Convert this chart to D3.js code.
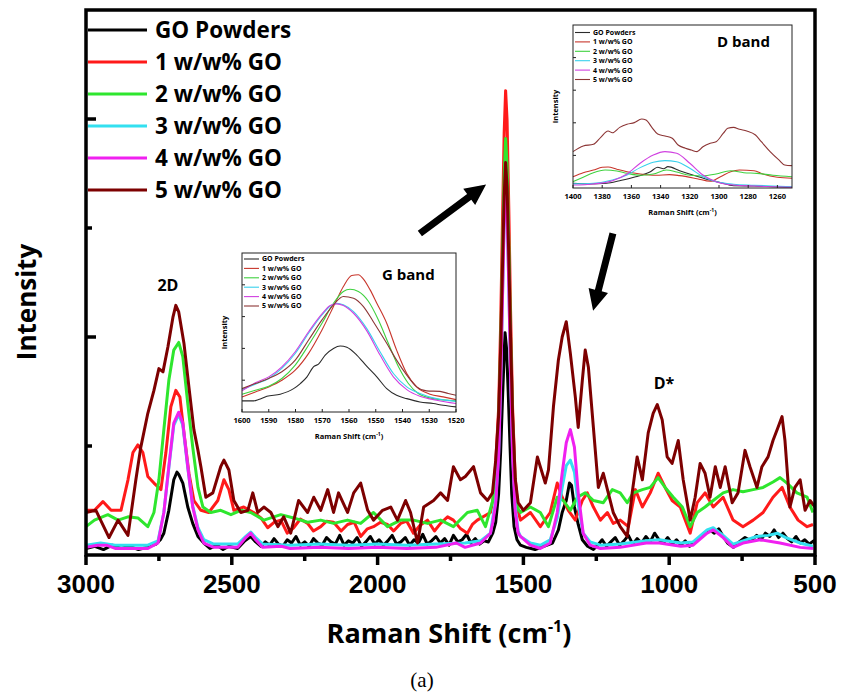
<!DOCTYPE html>
<html>
<head>
<meta charset="utf-8">
<script src="https://cdn.jsdelivr.net/npm/d3@7.8.5/dist/d3.min.js"></script>
<style>
  body { margin: 0; background: #fff; }
  svg text { font-family: "Open Sans", "DejaVu Sans", sans-serif; font-weight: 700; }
</style>
</head>
<body>
<div id="chart"></div>
<script>
const width = 844, height = 695;

// ---- series names / colours ----
const labels = ["GO Powders", "1 w/w% GO", "2 w/w% GO", "3 w/w% GO", "4 w/w% GO", "5 w/w% GO"];
const mainColors = ["#000000", "#ff1a1a", "#2ee62e", "#33e0f0", "#f020f0", "#7d0000"];
const insetColors = ["#2b2b2b", "#c8352b", "#3fd13f", "#38d0ec", "#d040e0", "#8c3535"];

// ---- main spectra: [Raman shift (cm-1), intensity (a.u.)] ----
const goPowders = [[3000,6],[2970,8],[2940,5],[2910,9],[2880,6],[2850,8],[2820,5],[2790,7],[2760,10],[2745,14],[2733,20],[2716,41],[2699,69],[2688,76],[2682,74],[2668,66],[2651,44],[2634,29],[2616,17],[2596,11],[2575,6],[2550,9],[2530,5],[2510,8],[2480,6],[2455,13],[2435,17],[2418,12],[2400,8],[2385,12],[2370,9],[2355,15],[2340,10],[2325,8],[2310,14],[2295,11],[2280,17],[2265,9],[2250,12],[2235,8],[2220,15],[2205,11],[2190,9],[2175,16],[2160,12],[2145,10],[2130,18],[2115,9],[2100,13],[2085,11],[2070,16],[2055,8],[2040,12],[2025,17],[2010,10],[1995,14],[1980,9],[1965,13],[1950,18],[1935,10],[1920,12],[1905,16],[1890,9],[1875,14],[1860,11],[1845,19],[1830,10],[1815,13],[1800,17],[1785,11],[1770,15],[1755,9],[1740,18],[1725,12],[1710,14],[1695,19],[1680,11],[1665,15],[1650,10],[1635,13],[1620,12],[1605,20],[1595,30],[1585,56],[1578,95],[1572,141],[1566,184],[1563,204],[1558,190],[1552,149],[1546,101],[1540,56],[1532,26],[1522,14],[1510,9],[1490,7],[1460,5],[1430,8],[1400,11],[1380,23],[1367,39],[1353,50],[1342,66],[1335,64],[1325,44],[1312,28],[1298,14],[1280,8],[1260,5],[1245,9],[1230,14],[1215,8],[1200,12],[1185,16],[1170,9],[1155,13],[1140,18],[1125,10],[1110,15],[1095,11],[1080,17],[1065,12],[1050,20],[1035,14],[1020,11],[1005,16],[990,10],[975,14],[960,9],[945,13],[930,8],[915,12],[900,15],[880,20],[860,23],[845,20],[830,24],[815,17],[800,11],[780,7],[760,12],[740,16],[720,13],[700,18],[685,14],[670,20],[655,17],[640,23],[625,16],[610,20],[595,15],[580,12],[565,17],[550,11],[535,14],[520,10],[505,13],[500,10]];

const go1 = [[3000,41],[2971,41],[2942,49],[2914,41],[2880,41],[2856,69],[2839,94],[2822,101],[2805,94],[2788,72],[2767,66],[2743,60],[2726,94],[2709,136],[2692,151],[2678,145],[2664,112],[2647,75],[2630,50],[2606,41],[2579,39],[2548,50],[2527,69],[2510,60],[2493,41],[2459,44],[2425,39],[2400,34],[2377,25],[2355,30],[2332,32],[2310,20],[2288,25],[2265,33],[2240,29],[2220,22],[2195,26],[2175,31],[2151,30],[2125,22],[2103,28],[2080,30],[2058,17],[2035,24],[2014,26],[1990,30],[1966,28],[1945,22],[1921,29],[1900,31],[1877,20],[1855,27],[1829,32],[1805,22],[1784,29],[1760,35],[1740,32],[1715,24],[1692,20],[1675,28],[1658,32],[1613,39],[1605,50],[1595,84],[1585,134],[1578,212],[1572,302],[1566,387],[1561,426],[1556,399],[1550,317],[1544,224],[1537,134],[1528,70],[1518,40],[1510,32],[1476,39],[1442,26],[1408,39],[1384,66],[1367,53],[1346,41],[1322,32],[1298,50],[1281,57],[1260,44],[1236,32],[1212,39],[1192,29],[1168,32],[1140,26],[1116,60],[1092,44],[1065,57],[1038,75],[1014,62],[990,50],[962,44],[928,20],[904,48],[877,57],[849,44],[815,53],[781,32],[747,26],[712,32],[678,39],[644,53],[613,62],[586,44],[558,32],[527,26],[507,28]];

const go2 = [[3000,26],[2971,32],[2925,37],[2890,32],[2856,35],[2822,34],[2788,26],[2767,39],[2750,69],[2733,115],[2716,160],[2699,188],[2682,195],[2668,182],[2651,139],[2634,99],[2616,62],[2599,44],[2572,39],[2538,41],[2503,37],[2469,41],[2435,39],[2390,32],[2332,37],[2288,34],[2240,30],[2195,32],[2151,29],[2103,32],[2058,29],[2014,39],[1966,26],[1921,32],[1877,32],[1829,29],[1784,32],[1740,26],[1692,39],[1658,41],[1630,26],[1605,50],[1595,77],[1585,122],[1578,191],[1572,271],[1566,347],[1561,382],[1556,358],[1550,285],[1544,202],[1537,122],[1528,65],[1518,42],[1510,39],[1476,44],[1442,39],[1414,26],[1384,53],[1363,50],[1339,41],[1315,53],[1288,57],[1260,50],[1226,48],[1195,60],[1168,57],[1144,48],[1123,57],[1092,60],[1065,62],[1038,71],[1014,62],[986,53],[955,44],[928,26],[904,39],[877,44],[849,50],[815,57],[781,60],[747,58],[712,60],[678,62],[644,67],[620,71],[596,66],[562,57],[527,53],[507,39]];

const go3 = [[3000,9],[2950,11],[2900,9],[2850,9],[2788,9],[2753,13],[2733,39],[2716,80],[2699,119],[2682,129],[2668,119],[2651,80],[2634,45],[2616,25],[2596,14],[2562,10],[2480,10],[2452,17],[2435,21],[2418,16],[2394,10],[2300,9],[2200,10],[2100,9],[2000,10],[1900,9],[1800,10],[1700,11],[1647,13],[1613,20],[1605,34],[1595,50],[1585,93],[1578,159],[1572,234],[1566,306],[1561,339],[1556,316],[1550,247],[1544,168],[1537,93],[1528,44],[1518,22],[1510,17],[1476,11],[1442,9],[1408,14],[1384,34],[1367,62],[1353,82],[1339,87],[1325,76],[1312,46],[1295,20],[1271,12],[1236,9],[1168,10],[1079,13],[1034,14],[960,11],[918,12],[870,23],[849,25],[815,18],[781,10],[747,13],[700,17],[660,18],[630,20],[600,16],[551,11],[507,8]];

const go4 = [[3000,7],[2960,9],[2930,9],[2900,6],[2850,6],[2788,6],[2753,11],[2733,39],[2716,81],[2699,121],[2682,131],[2668,121],[2651,81],[2634,44],[2616,23],[2596,11],[2562,7],[2480,7],[2452,16],[2435,20],[2418,14],[2394,7],[2330,8],[2300,6],[2200,7],[2100,6],[2000,7],[1900,6],[1800,7],[1730,11],[1700,7],[1647,11],[1613,20],[1605,30],[1595,47],[1585,90],[1578,156],[1572,233],[1566,306],[1561,337],[1556,316],[1550,246],[1544,166],[1537,90],[1528,40],[1518,20],[1510,17],[1476,9],[1442,6],[1408,11],[1384,39],[1367,75],[1353,103],[1339,115],[1325,99],[1312,57],[1295,20],[1271,9],[1236,6],[1168,7],[1079,11],[1034,11],[960,8],[918,9],[870,20],[849,23],[815,16],[781,7],[747,11],[688,14],[620,11],[551,7],[507,6]];

const go5 = [[3000,39],[2966,41],[2921,16],[2890,32],[2856,18],[2829,69],[2812,99],[2788,130],[2767,151],[2750,171],[2736,168],[2719,191],[2702,218],[2692,229],[2682,223],[2664,194],[2647,154],[2630,115],[2616,96],[2606,81],[2589,53],[2565,57],[2538,81],[2527,87],[2510,78],[2493,50],[2469,39],[2445,41],[2428,57],[2411,39],[2390,44],[2366,39],[2342,26],[2322,35],[2298,20],[2271,50],[2240,39],[2219,53],[2195,41],[2171,60],[2151,39],[2134,57],[2103,39],[2082,57],[2058,66],[2034,41],[2014,32],[1983,41],[1955,44],[1932,32],[1904,50],[1887,39],[1863,11],[1842,44],[1808,50],[1784,57],[1760,50],[1740,81],[1716,69],[1699,72],[1671,81],[1647,57],[1623,50],[1606,57],[1595,87],[1585,128],[1578,190],[1572,261],[1566,329],[1561,360],[1556,338],[1550,273],[1544,199],[1537,128],[1528,70],[1518,48],[1500,41],[1476,48],[1452,90],[1442,81],[1425,66],[1414,78],[1397,136],[1380,179],[1367,200],[1353,214],[1339,185],[1322,145],[1312,117],[1298,160],[1288,188],[1277,172],[1260,117],[1243,62],[1226,75],[1209,57],[1192,39],[1168,26],[1144,17],[1127,57],[1110,90],[1092,69],[1072,112],[1055,130],[1041,138],[1024,124],[1007,90],[990,84],[969,105],[952,69],[928,32],[911,53],[894,84],[877,75],[860,53],[842,81],[825,62],[808,81],[784,48],[764,57],[740,96],[723,81],[699,62],[682,81],[661,90],[644,105],[627,117],[613,127],[603,105],[586,44],[569,62],[551,69],[534,41],[517,50],[500,44]];

// ---- G band inset ----
const gGO = [[1600,7],[1595.6,7],[1593.8,7.8],[1590.7,9.9],[1585.7,11.2],[1580.7,14.7],[1578.2,17.9],[1575.7,22.1],[1573.3,28.4],[1571.4,30.1],[1568.9,35.8],[1565.8,40],[1563.3,41.5],[1560.8,40.7],[1557.1,35.8],[1553.4,28.8],[1549.6,22.1],[1545.9,14.7],[1542.2,10.5],[1538.4,8.4],[1533.5,6.3],[1528.5,5.3],[1524.8,4.2],[1520,3.2]];
const g1 = [[1600,9.5],[1595,12.6],[1590,15.8],[1585.1,20],[1580.1,26.3],[1575.1,36.9],[1570.1,51.6],[1565.2,68.4],[1562.1,78.9],[1559,85.9],[1556.5,86.3],[1554.6,83.6],[1552.1,76.8],[1549.6,68.4],[1545.9,55.8],[1542.2,38.9],[1538.4,24.2],[1534.7,15.8],[1529.7,11.2],[1524.8,9.5],[1520,7.8]];
const g2 = [[1600,11.2],[1595,13.7],[1590,16.2],[1585.1,21.1],[1580.1,29.5],[1575.1,42.1],[1570.1,55.8],[1565.8,68.4],[1562.1,75.8],[1559.6,77.2],[1556.5,75.8],[1552.7,69.5],[1549,57.9],[1545.3,43.2],[1541.5,28.4],[1537.8,17.9],[1534.1,11.6],[1528.5,8.4],[1520,7]];
const g3 = [[1600,14.1],[1595,17.5],[1590,21.1],[1585.1,27.4],[1580.1,36.8],[1575.1,49.5],[1570.1,61],[1567,66.7],[1564.6,68.4],[1562.1,67.4],[1558.3,63.1],[1553.4,52.6],[1548.4,37.9],[1543.4,24.2],[1538.4,15.8],[1533.5,11.6],[1527.2,8.4],[1520,6.7]];
const g4 = [[1600,13.3],[1595,18.4],[1590,22.1],[1585.1,28.4],[1580.1,37.9],[1575.1,50.5],[1570.1,61.7],[1567,67],[1564.6,68],[1562.1,67],[1558.3,62.1],[1553.4,51.2],[1548.4,35.8],[1543.4,22.1],[1538.4,14.1],[1533.5,9.9],[1527.2,7.4],[1520,5.3]];
const g5 = [[1600,14.7],[1595,17.9],[1590,21.1],[1585.1,25.3],[1580.1,32.6],[1575.1,45.3],[1570.1,57.9],[1565.8,67.4],[1562.1,72.6],[1558.3,71.6],[1554.6,66.3],[1550.9,56.8],[1545.9,43.2],[1542.2,32.6],[1538.4,23.2],[1534.7,15.8],[1531,13.3],[1526,13],[1522.9,11.6],[1520,10.5]];

// ---- D band inset ----
const dGO = [[1400,2.9],[1389,2.5],[1377,2.9],[1368,4.5],[1357,6.9],[1347,10],[1342,12.7],[1338,11.8],[1335,13.1],[1327,10.6],[1318,8],[1308,5.3],[1299,3.3],[1290,1.4],[1276,1.2],[1263,0.8],[1250,0.4]];
const d1 = [[1400,6.9],[1393,9.4],[1386,11],[1380,12.7],[1376,12.9],[1370,11.5],[1363,10],[1354,8.6],[1343,7.8],[1334,8.2],[1327,7.6],[1315,5.7],[1306,4.1],[1299,6.9],[1292,10],[1286,11],[1276,10.6],[1270,8.6],[1260,6.6],[1250,6]];
const d2 = [[1400,3.9],[1393,6.6],[1386,9.4],[1378,11],[1370,10.4],[1363,9],[1354,7.8],[1345,8.6],[1336,11],[1329,9.8],[1320,7.8],[1311,7.4],[1302,8.6],[1292,10.6],[1283,9.4],[1274,9],[1263,7.8],[1250,6.9]];
const d3s = [[1400,2.5],[1386,2.9],[1373,4.9],[1363,8],[1354,12.5],[1345,15.8],[1337,16.8],[1329,16.1],[1320,12.1],[1311,6.9],[1302,3.9],[1290,2.3],[1276,1.7],[1263,1.2],[1250,0.8]];
const d4 = [[1400,1.8],[1386,2.5],[1373,4.5],[1363,8.6],[1354,15.2],[1345,20.2],[1337,22.3],[1329,21.3],[1320,15.2],[1311,8],[1302,3.9],[1290,1.8],[1276,1.2],[1263,0.8],[1250,0.4]];
const d5 = [[1400,22.3],[1393,25.8],[1386,26.8],[1381,31.1],[1376,35],[1373,33.9],[1368,37.2],[1363,39.1],[1358,40.1],[1353,42.3],[1350,41.7],[1346,37.2],[1342,33.1],[1337,31.9],[1332,30.5],[1328,26.4],[1323,24.4],[1319,23.3],[1315,22.3],[1311,25.3],[1306,27.4],[1302,28.4],[1297,33.6],[1294,36.6],[1290,37.2],[1286,36],[1281,35],[1275,32.5],[1271,28.4],[1265,22.3],[1259,17.2],[1255,14.1],[1250,13.7]];

// ---- ticks ----
const xTicks = [3000, 2500, 2000, 1500, 1000, 500];
const xMinor = [2750, 2250, 1750, 1250, 750];
const yMajor = [200, 400];
const yMinor = [100, 300];
const gTicks = [1600, 1590, 1580, 1570, 1560, 1550, 1540, 1530, 1520];
const dTicks = [1400, 1380, 1360, 1340, 1320, 1300, 1280, 1260];
const insetYTicks = [20, 40, 60, 80];

const svg = d3.select("#chart").append("svg")
    .attr("width", width)
    .attr("height", height)
    .style("background", "#fff");

var x = d3.scaleLinear().domain([3000, 500]).range([86, 815]);
var y = d3.scaleLinear().domain([0, 500]).range([555, 10]);

svg.append("clipPath").attr("id", "plotclip")
    .append("rect").attr("x", 86).attr("y", 10).attr("width", 729).attr("height", 545);

var line = d3.line()
    .x(function (d) { return x(d[0]); })
    .y(function (d) { return y(d[1]); });

var plot = svg.append("g").attr("clip-path", "url(#plotclip)");
[goPowders, go1, go2, go3, go4, go5].forEach(function (s, i) {
    plot.append("path")
        .datum(s)
        .attr("d", line)
        .attr("fill", "none")
        .attr("stroke", mainColors[i])
        .attr("stroke-width", 3)
        .attr("stroke-linejoin", "round");
});

// frame
svg.append("rect")
    .attr("x", 86).attr("y", 10).attr("width", 729).attr("height", 545)
    .attr("fill", "none").attr("stroke", "#000").attr("stroke-width", 3.5);

// x ticks (outward)
svg.selectAll(".xt").data(xTicks.map(function (t) { return [t, 10]; }).concat(xMinor.map(function (t) { return [t, 6]; })))
    .enter().append("line")
    .attr("x1", function (d) { return x(d[0]); })
    .attr("x2", function (d) { return x(d[0]); })
    .attr("y1", 555).attr("y2", function (d) { return 555 + d[1]; })
    .attr("stroke", "#000").attr("stroke-width", 3.5);

svg.selectAll(".xl").data(xTicks).enter().append("text")
    .attr("x", function (d) { return x(d); })
    .attr("y", 593)
    .attr("text-anchor", "middle")
    .style("font-family", "'Liberation Sans', Arial, sans-serif")
    .style("font-size", "26px")
    .text(function (d) { return d; });

// y ticks (inward)
svg.selectAll(".yt").data(yMajor.map(function (t) { return [t, 10]; }).concat(yMinor.map(function (t) { return [t, 6]; })))
    .enter().append("line")
    .attr("x1", 86).attr("x2", function (d) { return 86 + d[1]; })
    .attr("y1", function (d) { return y(d[0]); })
    .attr("y2", function (d) { return y(d[0]); })
    .attr("stroke", "#000").attr("stroke-width", 3.5);

// axis titles
var xt = svg.append("text")
    .attr("x", 449).attr("y", 643)
    .attr("text-anchor", "middle")
    .style("font-size", "27px");
xt.append("tspan").text("Raman Shift (cm");
xt.append("tspan").attr("dy", -11).style("font-size", "16px").text("-1");
xt.append("tspan").attr("dy", 11).text(")");

svg.append("text")
    .attr("transform", "translate(36,302) rotate(-90)")
    .attr("text-anchor", "middle")
    .style("font-size", "26px")
    .text("Intensity");

svg.append("text")
    .attr("x", 422).attr("y", 687)
    .attr("text-anchor", "middle")
    .style("font-family", "'Liberation Serif', 'Times New Roman', serif")
    .style("font-weight", 400)
    .style("font-size", "21px")
    .text("(a)");

// main legend
labels.forEach(function (name, i) {
    var ly = 30 + i * 32;
    svg.append("line")
        .attr("x1", 88).attr("x2", 147).attr("y1", ly).attr("y2", ly)
        .attr("stroke", mainColors[i]).attr("stroke-width", 3);
    svg.append("text")
        .attr("x", 155).attr("y", ly).attr("dy", "0.36em")
        .style("font-size", "22.5px")
        .text(name);
});

// peak labels
svg.append("text").attr("x", x(2719)).attr("y", y(242))
    .attr("text-anchor", "middle").style("font-size", "16px").text("2D");
svg.append("text").attr("x", x(1018)).attr("y", y(152))
    .attr("text-anchor", "middle").style("font-size", "16px").text("D*");

// arrows
const arrows = [
    [[1855, 295], [1628, 340]],
    [[1193, 295], [1261, 224]]
];
arrows.forEach(function (a) {
    var x0 = x(a[0][0]), y0 = y(a[0][1]), x1 = x(a[1][0]), y1 = y(a[1][1]);
    var dx = x1 - x0, dy = y1 - y0, len = Math.hypot(dx, dy);
    var ux = dx / len, uy = dy / len, nx = -uy, ny = ux;
    var hw = 3.5, hl = 21, hh = 10;
    var bx = x1 - ux * hl, by = y1 - uy * hl;
    var pts = [
        [x0 + nx * hw, y0 + ny * hw], [bx + nx * hw, by + ny * hw], [bx + nx * hh, by + ny * hh],
        [x1, y1],
        [bx - nx * hh, by - ny * hh], [bx - nx * hw, by - ny * hw], [x0 - nx * hw, y0 - ny * hw]
    ];
    svg.append("polygon").attr("points", pts.map(function (p) { return p.join(","); }).join(" "))
        .attr("fill", "#000");
});

// ---- insets ----
const drawInset = function (o) {
    var ix = d3.scaleLinear().domain(o.domain).range([o.left, o.right]);
    var iy = d3.scaleLinear().domain([0, 100]).range([o.bottom, o.top]);
    var g = svg.append("g");
    g.append("rect")
        .attr("x", o.left).attr("y", o.top)
        .attr("width", o.right - o.left).attr("height", o.bottom - o.top)
        .attr("fill", "#fff");

    var iline = d3.line().curve(d3.curveMonotoneX)
        .x(function (d) { return ix(d[0]); })
        .y(function (d) { return iy(d[1]); });
    o.data.forEach(function (s, i) {
        g.append("path").datum(s).attr("d", iline)
            .attr("fill", "none").attr("stroke", insetColors[i]).attr("stroke-width", 1.1);
    });

    g.append("rect")
        .attr("x", o.left).attr("y", o.top)
        .attr("width", o.right - o.left).attr("height", o.bottom - o.top)
        .attr("fill", "none").attr("stroke", "#222").attr("stroke-width", 1);

    g.selectAll(".ixt").data(o.ticks).enter().append("line")
        .attr("x1", function (d) { return ix(d); }).attr("x2", function (d) { return ix(d); })
        .attr("y1", o.bottom).attr("y2", o.bottom - 3)
        .attr("stroke", "#222").attr("stroke-width", 1);
    g.selectAll(".ixl").data(o.ticks).enter().append("text")
        .attr("x", function (d) { return ix(d); }).attr("y", o.bottom + 10.5)
        .attr("text-anchor", "middle").style("font-size", "7.5px")
        .text(function (d) { return d; });
    g.selectAll(".iyt").data(insetYTicks).enter().append("line")
        .attr("x1", o.left).attr("x2", o.left + 3)
        .attr("y1", function (d) { return iy(d); }).attr("y2", function (d) { return iy(d); })
        .attr("stroke", "#222").attr("stroke-width", 1);

    var t = g.append("text")
        .attr("x", (o.left + o.right) / 2).attr("y", o.bottom + 27)
        .attr("text-anchor", "middle").style("font-size", "7.5px");
    t.append("tspan").text("Raman Shift (cm");
    t.append("tspan").attr("dy", -3).style("font-size", "5px").text("-1");
    t.append("tspan").attr("dy", 3).text(")");

    g.append("text")
        .attr("transform", "translate(" + (o.left - 15) + "," + ((o.top + o.bottom) / 2) + ") rotate(-90)")
        .attr("text-anchor", "middle").style("font-size", "7.5px")
        .text("Intensity");

    labels.forEach(function (name, i) {
        var ly = o.legendTop + i * 9.4;
        g.append("line")
            .attr("x1", o.left + 2).attr("x2", o.left + 17).attr("y1", ly).attr("y2", ly)
            .attr("stroke", insetColors[i]).attr("stroke-width", 1.1);
        g.append("text")
            .attr("x", o.left + 20).attr("y", ly).attr("dy", "0.35em")
            .style("font-size", "7px")
            .text(name);
    });

    g.append("text")
        .attr("x", o.left + o.bandX).attr("y", o.top + o.bandY)
        .style("font-size", "15px")
        .text(o.band);
};

drawInset({
    left: 242, right: 456, top: 253, bottom: 412,
    domain: [1600, 1520], ticks: gTicks,
    data: [gGO, g1, g2, g3, g4, g5],
    legendTop: 259, band: "G band", bandX: 140, bandY: 27
});

drawInset({
    left: 573, right: 792, top: 25, bottom: 188,
    domain: [1400, 1250], ticks: dTicks,
    data: [dGO, d1, d2, d3s, d4, d5],
    legendTop: 32.5, band: "D band", bandX: 144, bandY: 22
});
</script>
</body>
</html>
